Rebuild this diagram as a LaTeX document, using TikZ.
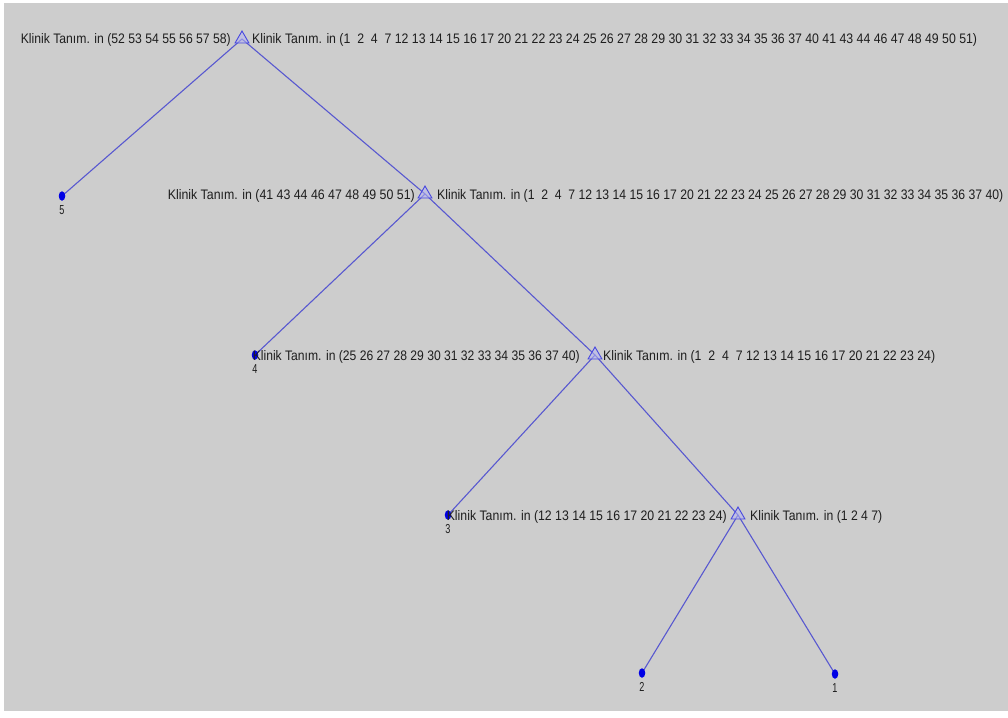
\documentclass[tikz,border=0pt]{standalone}
\usepackage{fontspec}
\setmainfont{Liberation Sans}
\usetikzlibrary{shapes.geometric,calc,backgrounds}
\definecolor{bg}{HTML}{CDCDCD}
\definecolor{edgec}{HTML}{5858D0}
\definecolor{tric}{HTML}{4848E0}
\definecolor{txtc}{HTML}{1E1E1E}
\newcommand{\lbl}[2]{\resizebox{#1pt}{10pt}{#2}}
\begin{document}
\begin{tikzpicture}[x=1pt,y=-1pt,
  split/.style={regular polygon, regular polygon sides=3, draw=tric, fill=tric!40, fill opacity=0.55, draw opacity=1, minimum size=16pt, inner sep=0pt, line width=0.9pt},
  leaf/.style={ellipse, fill=blue!90!black, minimum width=6.5pt, minimum height=9.5pt, inner sep=0pt},
  conn/.style={draw=edgec, line width=1.1pt},
  lab/.style={text=txtc, inner sep=0pt, font=\fontsize{12}{12}\selectfont},
  leafnum/.style={text=txtc, inner sep=0pt, anchor=north, font=\fontsize{13}{13}\selectfont}]
\useasboundingbox (0,0) rectangle (1008,717);
% split nodes
\node[split] (r) at (242,39) {};
\node[split] (n2) at (425,194) {};
\node[split] (n3) at (595,355) {};
\node[split] (n4) at (738,515) {};
% leaves
\node[leaf] (l5) at (62,196) {};
\node[leaf] (l4) at (255,355) {};
\node[leaf] (l3) at (448,515) {};
\node[leaf] (l2) at (642,673) {};
\node[leaf] (l1) at (835,674) {};
% leaf numbers
\node[leafnum] (t5) at ($(l5.south)+(0,4)$) {\scalebox{0.7}[1]{5}};
\node[leafnum] (t4) at ($(l4.south)+(0,4)$) {\scalebox{0.7}[1]{4}};
\node[leafnum] (t3) at ($(l3.south)+(0,4)$) {\scalebox{0.7}[1]{3}};
\node[leafnum] (t2) at ($(l2.south)+(0,4)$) {\scalebox{0.7}[1]{2}};
\node[leafnum] (t1) at ($(l1.south)+(0,4)$) {\scalebox{0.7}[1]{1}};
% labels
\node[lab, anchor=base east] (rl) at ($(r)+(-11,5)$) {\lbl{210}{Klinik Tanım. in (52 53 54 55 56 57 58)}};
\node[lab, anchor=base west] (rr) at ($(r)+(10,5)$) {\lbl{725}{Klinik Tanım. in (1~~2~~4~~7 12 13 14 15 16 17 20 21 22 23 24 25 26 27 28 29 30 31 32 33 34 35 36 37 40 41 43 44 46 47 48 49 50 51)}};
\node[lab, anchor=base east] (n2l) at ($(n2)+(-10,5)$) {\lbl{247}{Klinik Tanım. in (41 43 44 46 47 48 49 50 51)}};
\node[lab, anchor=base west] (n2r) at ($(n2)+(12,5)$) {\lbl{566}{Klinik Tanım. in (1~~2~~4~~7 12 13 14 15 16 17 20 21 22 23 24 25 26 27 28 29 30 31 32 33 34 35 36 37 40)}};
\node[lab, anchor=base east] (n3l) at ($(n3)+(-15,5)$) {\lbl{327}{Klinik Tanım. in (25 26 27 28 29 30 31 32 33 34 35 36 37 40)}};
\node[lab, anchor=base west] (n3r) at ($(n3)+(8,5)$) {\lbl{332}{Klinik Tanım. in (1~~2~~4~~7 12 13 14 15 16 17 20 21 22 23 24)}};
\node[lab, anchor=base east] (n4l) at ($(n4)+(-11,5)$) {\lbl{280}{Klinik Tanım. in (12 13 14 15 16 17 20 21 22 23 24)}};
\node[lab, anchor=base west] (n4r) at ($(n4)+(12,5)$) {\lbl{132}{Klinik Tanım. in (1 2 4 7)}};
\begin{pgfonlayer}{background}
\fill[white] (0,0) rectangle (1008,717);
\fill[bg] (4,3) rectangle (1008,711);
\draw[conn] (r.center) -- (l5.center);
\draw[conn] (r.center) -- (n2.center);
\draw[conn] (n2.center) -- (l4.center);
\draw[conn] (n2.center) -- (n3.center);
\draw[conn] (n3.center) -- (l3.center);
\draw[conn] (n3.center) -- (n4.center);
\draw[conn] (n4.center) -- (l2.center);
\draw[conn] (n4.center) -- (l1.center);
\end{pgfonlayer}
\end{tikzpicture}
\end{document}
